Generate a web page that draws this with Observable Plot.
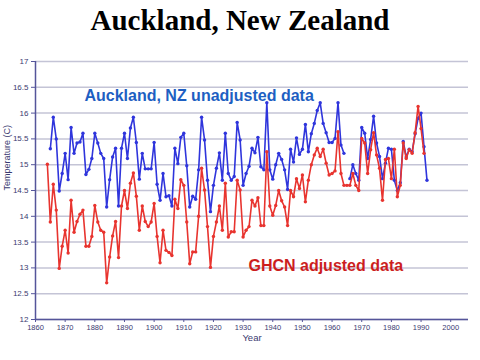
<!DOCTYPE html>
<html>
<head>
<meta charset="utf-8">
<script src="https://cdn.jsdelivr.net/npm/d3@7"></script>
<script src="https://cdn.jsdelivr.net/npm/@observablehq/plot@0.6"></script>
<style>
  html, body { margin: 0; padding: 0; background: #ffffff; }
  #title { width: 480px; height: 40px; line-height: 40px; text-align: center;
    font-family: "Liberation Serif", "Times New Roman", serif; font-weight: bold;
    font-size: 29px; color: #000; }
  #chart svg { display: block; }
</style>
</head>
<body>
<div id="title">Auckland, New Zealand</div>
<div id="chart"></div>
<script>
// Unadjusted (blue) series, first year 1865
const blueStart = 1865;
const blueValues = [
  15.31, 15.92, 15.50, 14.49, 14.83, 15.22, 14.71, 15.72, 15.22, 15.42,
  15.44, 15.61, 14.81, 14.91, 15.12, 15.61, 15.42, 15.22, 15.12, 14.18,
  14.71, 15.15, 15.32, 14.20, 15.32, 15.61, 15.12, 15.71, 15.92, 15.43,
  14.72, 15.22, 14.92, 14.92, 14.92, 15.43, 14.62, 14.31, 14.83, 14.38,
  14.40, 14.20, 15.32, 15.02, 15.53, 15.61, 14.98, 14.18, 14.39, 14.33,
  14.90, 15.92, 15.48, 14.70, 14.09, 14.60, 14.93, 15.23, 14.70, 15.61,
  14.83, 14.70, 14.77, 15.82, 15.48, 14.60, 14.83, 14.97, 15.32, 15.23,
  15.53, 14.96, 14.90, 16.20, 14.90, 14.72, 15.00, 15.22, 15.10, 14.90,
  14.52, 15.30, 15.05, 15.52, 15.20, 15.30, 15.78, 15.25, 15.60, 15.80,
  16.05, 16.20, 15.80, 15.62, 15.43, 15.43, 15.51, 16.20, 15.38, 15.22,
  null,  14.73, 15.00, 14.83, 14.70, 15.72, 15.61, 15.12, 15.49, 15.94,
  15.42, 15.16, 14.73, 15.03, 15.32, 15.30, 14.70, 14.50, 14.65, 15.45,
  15.15, 15.30, 15.25, 15.60, 15.90, 16.00, 15.35, 14.70
];
// GHCN adjusted (red) series, first year 1864
const redStart = 1864;
const redValues = [
  15.01, 13.89, 14.62, 14.12, 12.99, 13.42, 13.73, 13.29, 14.31, 13.69,
  13.90, 14.04, 14.12, 13.42, 13.42, 13.61, 14.21, 13.89, 13.73, 13.69,
  12.71, 13.21, 13.62, 13.90, 13.20, 14.20, 14.50, 14.15, 14.64, 14.84,
  14.39, 13.73, 14.20, 13.90, 13.80, 13.89, 14.25, 13.61, 13.10, 13.73,
  13.34, 13.30, 13.24, 14.33, 14.15, 14.71, 14.60, 13.89, 13.08, 13.31,
  13.31, 14.00, 14.93, 14.51, 13.80, 13.01, 13.61, 13.89, 14.20, 13.73,
  14.64, 13.60, 13.70, 13.70, 14.70, 14.51, 13.60, 13.73, 13.80, 14.31,
  14.20, 14.36, 13.82, 13.82, 15.25, 14.20, 14.02, 14.21, 14.50, 14.30,
  14.18, 13.82, 14.50, 14.38, 14.73, 14.54, 14.80, 14.28, 14.70, 15.00,
  15.19, 15.32, 15.16, 15.30, 15.03, 14.80, 14.83, 14.88, 15.64, 14.83,
  14.60, 14.60, 14.60, 14.83, 14.60, 14.50, 15.51, 15.42, 14.83, 15.29,
  15.62, 15.19, 14.93, 14.31, 15.10, 15.12, 14.73, 15.30, 14.38, 14.60,
  15.42, 15.12, 15.29, 15.22, 15.62, 16.13, 15.70, 15.22
];
const xTicks = [1860, 1870, 1880, 1890, 1900, 1910, 1920, 1930, 1940, 1950, 1960, 1970, 1980, 1990, 2000];
const yTicks = [12, 12.5, 13, 13.5, 14, 14.5, 15, 15.5, 16, 16.5, 17];
const labelTexts = ["Auckland, NZ unadjusted data", "GHCN adjusted data"];
const labelYears = [1876.5, 1931.8];
const labelTemps = [16.34, 13.03];
const labelColors = ["#1e5fc2", "#cc1e1e"];

const blue = blueValues.map((v, i) => ({year: blueStart + i, t: v}));
const red = redValues.map((v, i) => ({year: redStart + i, t: v}));
const labels = labelTexts.map((s, i) => ({s, x: labelYears[i], y: labelTemps[i], c: labelColors[i]}));

const axisColor = "#55559a";
const textColor = "#3a3a70";
const blueColor = "#2f35dc";
const redColor = "#e8342f";

const chart = Plot.plot({
  width: 480,
  height: 320,
  marginLeft: 35,
  marginRight: 12,
  marginTop: 21,
  marginBottom: 41,
  style: {fontFamily: "'Liberation Sans', Arial, sans-serif", background: "#ffffff"},
  x: {domain: [1860, 2006]},
  y: {domain: [12, 17]},
  marks: [
    Plot.gridY(yTicks, {stroke: "#c4c4d6", strokeOpacity: 1, strokeWidth: 1.5}),
    Plot.ruleY([12], {stroke: axisColor, strokeWidth: 1.5}),
    Plot.ruleX([1860], {stroke: axisColor, strokeWidth: 1.5}),
    Plot.axisX(xTicks, {tickSize: 3, tickPadding: 2, fontSize: 7.5, stroke: axisColor, color: textColor, tickFormat: d => String(d), label: null}),
    Plot.axisY(yTicks, {tickSize: 4, tickPadding: 3, fontSize: 8, stroke: axisColor, color: textColor, tickFormat: d => String(d), label: null}),
    Plot.text(["Temperature (C)"], {frameAnchor: "left", rotate: -90, dx: -28, fontSize: 9, fill: textColor}),
    Plot.text(["Year"], {frameAnchor: "bottom", dy: 21, fontSize: 9.5, fill: textColor}),
    Plot.line(blue, {x: "year", y: "t", stroke: blueColor, strokeWidth: 1.6}),
    Plot.dot(blue, {x: "year", y: "t", r: 1.7, fill: blueColor}),
    Plot.line(red, {x: "year", y: "t", stroke: redColor, strokeWidth: 1.6}),
    Plot.dot(red, {x: "year", y: "t", r: 1.7, fill: redColor}),
    Plot.text(labels, {x: "x", y: "y", text: "s", fill: "c", textAnchor: "start", fontSize: 16, fontWeight: "bold"})
  ]
});
document.getElementById("chart").appendChild(chart);
</script>
</body>
</html>
